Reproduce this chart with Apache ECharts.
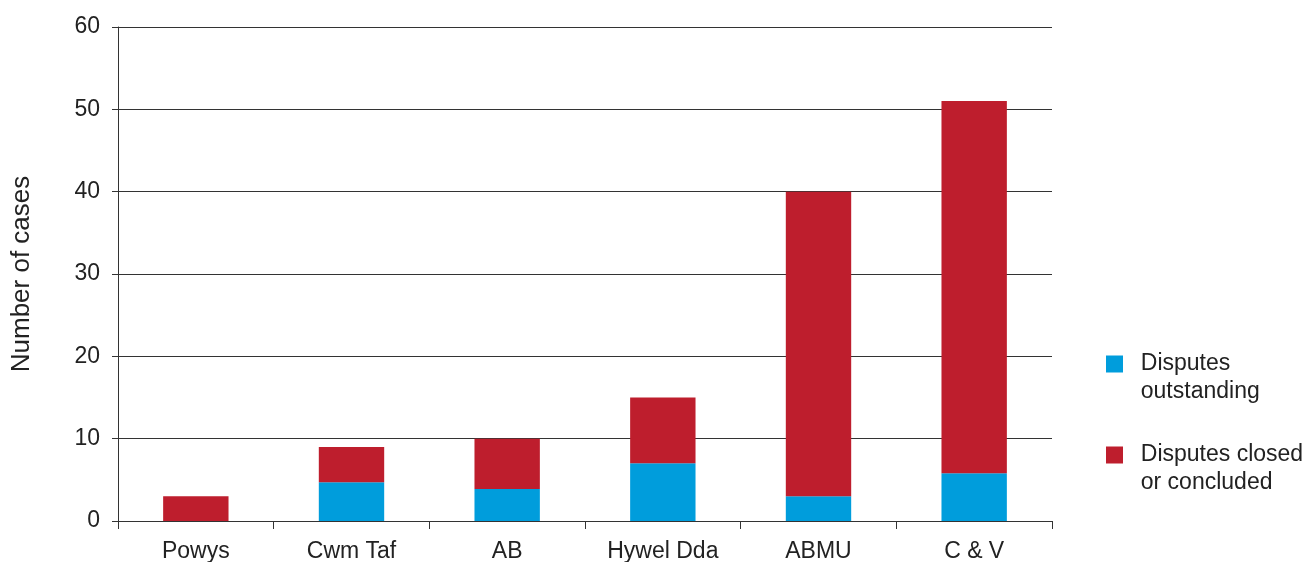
<!DOCTYPE html>
<html><head><meta charset="utf-8">
<script src="https://cdn.jsdelivr.net/npm/echarts@6/dist/echarts.min.js"></script>
<style>html,body{margin:0;padding:0;background:#fff}#c{width:1314px;height:562px}</style>
</head><body><div id="c"></div>
<script>
var categories = ['Powys', 'Cwm Taf', 'AB', 'Hywel Dda', 'ABMU', 'C & V'];
var outstandingCases = [0, 4.7, 3.9, 7, 3, 5.8];
var closedCases = [3, 4.3, 6.1, 8, 37, 45.2];
var seriesNames = ['Disputes outstanding', 'Disputes closed or concluded'];
var legendLabels = ['Disputes\noutstanding', 'Disputes closed\nor concluded'];
var yTicks = {min: 0, max: 60, interval: 10};

var font = 'Liberation Sans, Arial, Helvetica, sans-serif';
var chart = echarts.init(document.getElementById('c'), null, {renderer: 'canvas'});
chart.setOption({
  animation: false,
  textStyle: {fontFamily: font},
  grid: {left: 118, right: 262, top: 27, bottom: 41, containLabel: false, outerBoundsMode: 'none'},
  legend: {
    orient: 'vertical', left: 1106, top: 322, padding: 0,
    itemWidth: 17, itemHeight: 17, itemGap: 7,
    icon: 'rect',
    formatter: function (n) {
      var lines = legendLabels[seriesNames.indexOf(n)].split('\n');
      return ' \n' + lines.map(function (l) { return '  ' + l; }).join('\n');
    },
    textStyle: {fontFamily: font, fontSize: 23, color: '#222', lineHeight: 28},
    data: seriesNames
  },
  xAxis: {
    type: 'category', data: categories,
    axisLine: {lineStyle: {color: '#333', width: 1}},
    axisTick: {show: true, length: 8, lineStyle: {color: '#333'}},
    axisLabel: {fontSize: 23, color: '#222', margin: 19, fontFamily: font}
  },
  yAxis: {
    type: 'value', min: yTicks.min, max: yTicks.max, interval: yTicks.interval,
    name: 'Number of cases', nameLocation: 'middle', nameGap: 83,
    nameTextStyle: {fontSize: 26, color: '#222', fontFamily: font},
    axisLine: {show: true, lineStyle: {color: '#333', width: 1}},
    axisTick: {show: true, length: 6, lineStyle: {color: '#333'}},
    axisLabel: {fontSize: 23, color: '#222', margin: 18, fontFamily: font},
    splitLine: {lineStyle: {color: '#333', width: 1}}
  },
  series: [
    {name: seriesNames[0], type: 'bar', stack: 'total', data: outstandingCases, barWidth: '42%', itemStyle: {color: '#009ddc'}},
    {name: seriesNames[1], type: 'bar', stack: 'total', data: closedCases, itemStyle: {color: '#be1e2d'}}
  ]
});
</script></body></html>
